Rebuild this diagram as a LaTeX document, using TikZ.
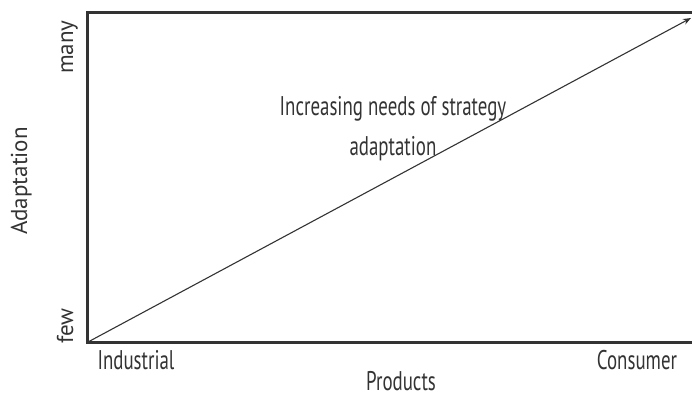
\documentclass[tikz,border=0pt]{standalone}
\usepackage{fontspec}
\setmainfont[FakeStretch=0.7]{PT Sans}
\newfontfamily\widefont{PT Sans}
\usetikzlibrary{arrows.meta}
\definecolor{ink}{RGB}{51,51,51}
\tikzset{
  lbl/.style={text=ink, inner sep=0pt, font=\fontsize{27}{40}\selectfont},
  vlbl/.style={text=ink, inner sep=0pt, rotate=90, anchor=base, font=\widefont\fontsize{23}{28}\selectfont},
  frame/.style={draw=ink, line width=3pt},
  trend/.style={draw=ink, line width=1.1pt, -{Stealth[length=8pt,width=6pt]}}
}
\begin{document}
\begin{tikzpicture}[x=1pt,y=-1pt]
\useasboundingbox (0,0) rectangle (692,397);
\draw[frame] (692,12.5) -- (87.5,12.5) -- (87.5,342) -- (692,342);
\coordinate (o) at (88,342);
\coordinate (t) at (691,18);
\draw[trend] (o) -- (t);
\node[vlbl] (ymany) at (73,47) {many};
\node[vlbl] (yfew) at (73,326) {few};
\node[vlbl] (ylabel) at (27,181) {Adaptation};
\node[lbl, anchor=base] (xind) at (136,369) {Industrial};
\node[lbl, anchor=base] (xcons) at (637,369) {Consumer};
\node[lbl, anchor=base] (xlabel) at (401,390) {Products};
\node[lbl, anchor=base, align=center] (note) at (393,155) {Increasing needs of strategy\\adaptation};
\end{tikzpicture}
\end{document}
